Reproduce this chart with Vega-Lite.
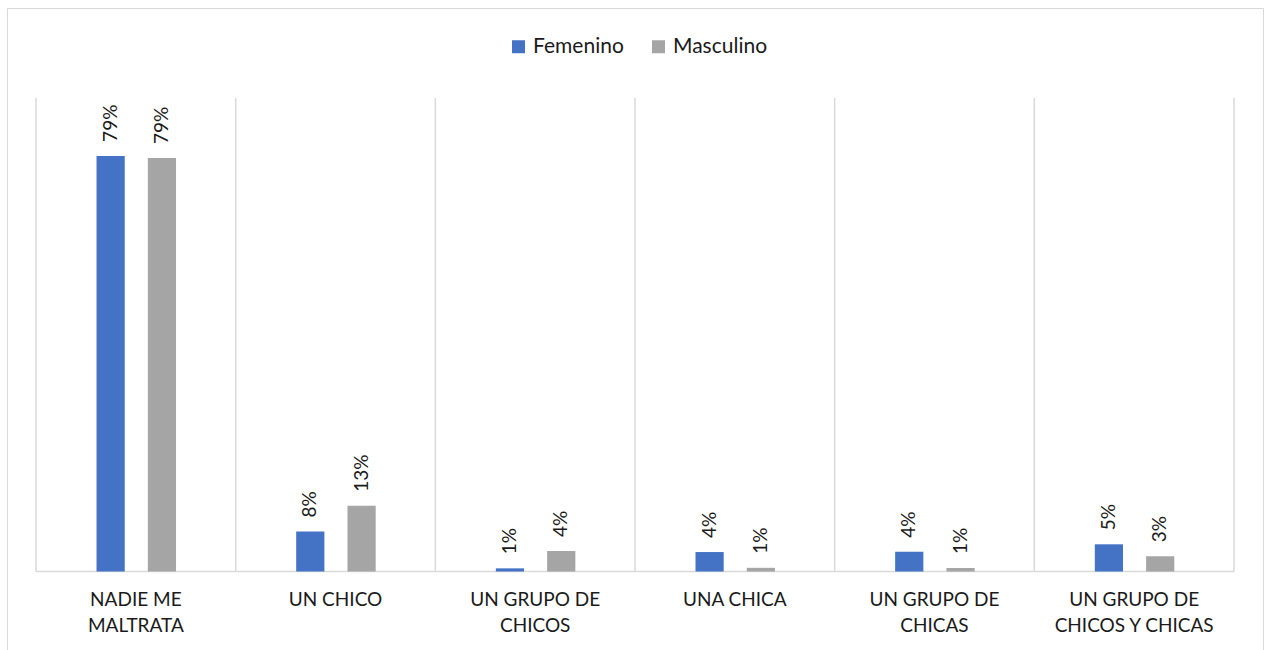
{
  "$schema": "https://vega.github.io/schema/vega-lite/v6.json",
  "autosize": {"type": "fit", "contains": "padding"},
  "width": 1264,
  "height": 650,
  "padding": {"left": 7, "top": 8, "right": 1, "bottom": -2},
  "background": "white",
  "config": {
    "view": {"stroke": "#d9d9d9", "strokeWidth": 1},
    "font": "Lato"
  },
  "datasets": {
    "bars": [
      {"categoria": "NADIE ME MALTRATA", "genero": "Femenino", "valor": 0.79},
      {"categoria": "NADIE ME MALTRATA", "genero": "Masculino", "valor": 0.786},
      {"categoria": "UN CHICO", "genero": "Femenino", "valor": 0.076},
      {"categoria": "UN CHICO", "genero": "Masculino", "valor": 0.125},
      {"categoria": "UN GRUPO DE CHICOS", "genero": "Femenino", "valor": 0.006},
      {"categoria": "UN GRUPO DE CHICOS", "genero": "Masculino", "valor": 0.039},
      {"categoria": "UNA CHICA", "genero": "Femenino", "valor": 0.037},
      {"categoria": "UNA CHICA", "genero": "Masculino", "valor": 0.007},
      {"categoria": "UN GRUPO DE CHICAS", "genero": "Femenino", "valor": 0.0376},
      {"categoria": "UN GRUPO DE CHICAS", "genero": "Masculino", "valor": 0.0067},
      {"categoria": "UN GRUPO DE CHICOS Y CHICAS", "genero": "Femenino", "valor": 0.0517},
      {"categoria": "UN GRUPO DE CHICOS Y CHICAS", "genero": "Masculino", "valor": 0.029}
    ],
    "grid": [
      {"categoria": "NADIE ME MALTRATA"},
      {"categoria": "UN CHICO"},
      {"categoria": "UN GRUPO DE CHICOS"},
      {"categoria": "UNA CHICA"},
      {"categoria": "UN GRUPO DE CHICAS"},
      {"categoria": "UN GRUPO DE CHICOS Y CHICAS"}
    ],
    "gridEnd": [
      {"categoria": "UN GRUPO DE CHICOS Y CHICAS"}
    ]
  },
  "encoding": {
    "x": {
      "field": "categoria",
      "type": "nominal",
      "sort": null,
      "scale": {
        "domain": ["NADIE ME MALTRATA", "UN CHICO", "UN GRUPO DE CHICOS", "UNA CHICA", "UN GRUPO DE CHICAS", "UN GRUPO DE CHICOS Y CHICAS"],
        "paddingInner": 0,
        "paddingOuter": 0.1454
      },
      "axis": {
        "orient": "bottom",
        "offset": -80.5,
        "domain": false,
        "ticks": false,
        "grid": false,
        "title": null,
        "labelAngle": 0,
        "labelFont": "Lato",
        "labelFontSize": 19,
        "labelColor": "#1a1a1a",
        "labelPadding": 19,
        "labelLineHeight": 26,
        "labelLimit": 0,
        "labelExpr": "datum.value == 'NADIE ME MALTRATA' ? ['NADIE ME', 'MALTRATA'] : datum.value == 'UN GRUPO DE CHICOS' ? ['UN GRUPO DE', 'CHICOS'] : datum.value == 'UN GRUPO DE CHICAS' ? ['UN GRUPO DE', 'CHICAS'] : datum.value == 'UN GRUPO DE CHICOS Y CHICAS' ? ['UN GRUPO DE', 'CHICOS Y CHICAS'] : datum.value"
      }
    }
  },
  "layer": [
    {
      "data": {"name": "grid"},
      "mark": {"type": "rule", "color": "#d9d9d9", "strokeWidth": 1.5},
      "encoding": {
        "x": {"field": "categoria", "type": "nominal", "bandPosition": 0},
        "y": {"datum": 0, "type": "quantitative", "scale": {"domain": [-0.153, 1.0711], "nice": false, "zero": false}, "axis": null},
        "y2": {"datum": 0.9}
      }
    },
    {
      "data": {"name": "gridEnd"},
      "mark": {"type": "rule", "color": "#d9d9d9", "strokeWidth": 1.5},
      "encoding": {
        "x": {"field": "categoria", "type": "nominal", "bandPosition": 1},
        "y": {"datum": 0, "type": "quantitative"},
        "y2": {"datum": 0.9}
      }
    },
    {
      "data": {"name": "gridEnd"},
      "mark": {"type": "rule", "color": "#d9d9d9", "strokeWidth": 1.5},
      "encoding": {
        "x": {"datum": "NADIE ME MALTRATA", "type": "nominal", "bandPosition": 0},
        "x2": {"datum": "UN GRUPO DE CHICOS Y CHICAS", "bandPosition": 1},
        "y": {"datum": 0, "type": "quantitative"}
      }
    },
    {
      "data": {"name": "bars"},
      "mark": {"type": "bar"},
      "encoding": {
        "xOffset": {"field": "genero", "type": "nominal", "sort": ["Femenino", "Masculino"], "scale": {"range": [60.5, 140], "paddingInner": 0.45, "paddingOuter": 0}},
        "y": {"field": "valor", "type": "quantitative"},
        "color": {
          "field": "genero",
          "type": "nominal",
          "sort": ["Femenino", "Masculino"],
          "scale": {"domain": ["Femenino", "Masculino"], "range": ["#4472C4", "#A5A5A5"]},
          "legend": {
            "orient": "none",
            "legendX": 501,
            "legendY": 28,
            "direction": "horizontal",
            "title": null,
            "symbolType": "square",
            "symbolSize": 169,
            "symbolStrokeWidth": 0,
            "labelFont": "Lato",
            "labelFontSize": 21,
            "labelOffset": 4,
            "labelColor": "#1a1a1a",
            "columnPadding": 24,
            "padding": 0
          }
        }
      }
    },
    {
      "data": {"name": "bars"},
      "mark": {"type": "text", "angle": 270, "align": "left", "baseline": "middle", "dx": 14, "font": "Lato", "fontSize": 19, "color": "#1a1a1a"},
      "encoding": {
        "xOffset": {"field": "genero", "type": "nominal", "sort": ["Femenino", "Masculino"]},
        "y": {"field": "valor", "type": "quantitative"},
        "text": {"field": "valor", "type": "quantitative", "format": ".0%"}
      }
    }
  ]
}
